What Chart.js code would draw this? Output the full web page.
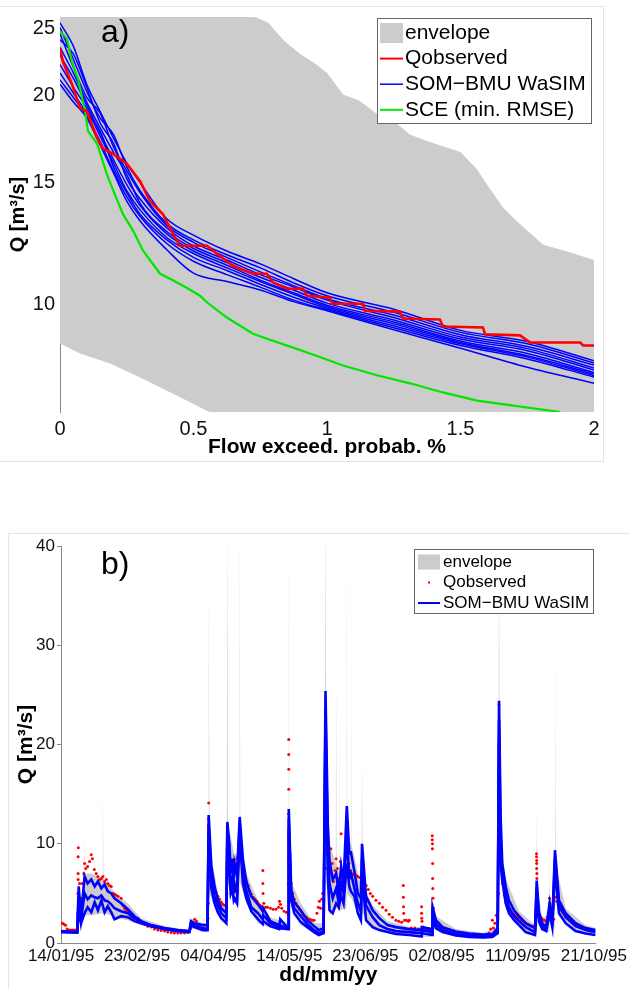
<!DOCTYPE html>
<html>
<head>
<meta charset="utf-8">
<script src="https://cdn.jsdelivr.net/npm/chart.js@4.4.1/dist/chart.umd.min.js"></script>
<style>
  body { margin: 0; background: #fff; width: 630px; height: 988px; overflow: hidden; position: relative; font-family: "Liberation Sans", Arial, sans-serif; }
  .frame { position: absolute; border: 1px solid #e4e4e4; }
  canvas { position: absolute; left: 0; }
  .panel { position: absolute; font-size: 32px; line-height: 1; color: #000; }
</style>
</head>
<body>
<div class="frame" style="left:-1px; top:6px; width:603px; height:454px;"></div>
<div class="frame" style="left:8px; top:533px; width:640px; height:480px;"></div>
<canvas id="chart1" width="630" height="470" style="top:0"></canvas>
<canvas id="chart2" width="630" height="488" style="top:500px"></canvas>
<div class="panel" style="left:101px; top:15px;">a)</div>
<div class="panel" style="left:101px; top:547px;">b)</div>
<script>
// ---- panel a) flow duration curves (x = exceedance %, y = Q m3/s, log) ----
let fdcTicksX = [0, 0.5, 1, 1.5, 2];
let fdcTicksY = [10, 15, 20, 25];

let envFdcX  = [0, 0.075, 0.19, 0.3, 0.45, 0.55, 0.6, 0.7, 0.72, 0.78, 0.84, 0.9, 0.96, 1.0, 1.06, 1.12, 1.19, 1.25, 1.31, 1.38, 1.5, 1.56, 1.61, 1.66, 1.71, 1.79, 1.81, 1.91, 2.0];
let envFdcHi = [40, 40, 40, 40, 40, 40, 40, 28, 26.1, 25.5, 24.0, 23.0, 22.2, 21.6, 20.1, 19.7, 18.8, 18.4, 17.6, 17.2, 16.6, 15.7, 14.7, 13.8, 13.2, 12.4, 12.2, 11.9, 11.6];
let envFdcLo = [8.79, 8.5, 8.22, 7.85, 7.35, 7.03, 6.9, 6.7, 6.7, 6.6, 6.6, 6.5, 6.5, 6.5, 6.5, 6.5, 6.5, 6.5, 6.5, 6.5, 6.5, 6.5, 6.5, 6.5, 6.5, 6.5, 6.5, 6.5, 6.5];

let obsFdcX = [0, 0.011, 0.045, 0.075, 0.101, 0.139, 0.161, 0.199, 0.251, 0.300, 0.337, 0.386, 0.423, 0.449, 0.551, 0.588, 0.648, 0.723, 0.775, 0.798, 0.850, 0.910, 0.925, 1.011, 1.019, 1.135, 1.142, 1.273, 1.285, 1.423, 1.434, 1.584, 1.592, 1.723, 1.760, 1.948, 1.959, 2.0];
let obsFdcQ = [23.4, 22.4, 20.8, 19.2, 19.0, 17.4, 16.8, 16.5, 15.96, 15.07, 14.1, 13.5, 12.65, 12.16, 12.16, 11.84, 11.37, 11.08, 11.08, 10.76, 10.54, 10.54, 10.3, 10.23, 10.03, 10.03, 9.80, 9.77, 9.55, 9.52, 9.30, 9.27, 9.06, 9.03, 8.82, 8.82, 8.73, 8.73];

let sceX = [0, 0.026, 0.045, 0.067, 0.094, 0.105, 0.139, 0.176, 0.206, 0.236, 0.273, 0.311, 0.375, 0.412, 0.476, 0.524, 0.551, 0.625, 0.723, 0.775, 0.873, 0.955, 1.06, 1.187, 1.311, 1.434, 1.562, 1.685, 1.873];
let sceQ = [24.8, 24.2, 22.4, 21.2, 19.0, 17.8, 17.06, 15.4, 14.4, 13.5, 12.8, 11.96, 11.08, 10.9, 10.57, 10.3, 10.07, 9.58, 9.08, 8.93, 8.67, 8.45, 8.17, 7.91, 7.70, 7.47, 7.27, 7.16, 7.0];

let somX = [0, 0.05, 0.1, 0.15, 0.2, 0.25, 0.3, 0.4, 0.5, 0.625, 0.75, 0.875, 1, 1.25, 1.5, 1.75, 2];
let somRuns = [
  [25.5, 23.6, 20.8, 19.0, 17.4, 16.0, 15.0, 13.3, 12.6, 11.95, 11.45, 10.9, 10.4, 9.85, 9.18, 8.85, 8.30],
  [25.1, 22.6, 20.3, 18.6, 17.6, 15.8, 14.6, 13.1, 12.4, 11.8, 11.3, 10.75, 10.3, 9.75, 9.12, 8.78, 8.24],
  [24.6, 22.0, 19.9, 18.9, 16.9, 15.6, 14.5, 13.0, 12.3, 11.7, 11.15, 10.65, 10.2, 9.66, 9.05, 8.70, 8.18],
  [24.1, 23.0, 20.6, 18.3, 17.1, 15.2, 14.2, 12.9, 12.15, 11.6, 11.05, 10.6, 10.15, 9.58, 8.98, 8.64, 8.10],
  [23.5, 21.6, 19.6, 18.0, 16.6, 15.4, 14.0, 12.75, 12.05, 11.5, 10.95, 10.5, 10.05, 9.5, 8.92, 8.58, 8.05],
  [22.9, 21.2, 19.4, 17.7, 16.2, 14.9, 13.9, 12.65, 11.95, 11.4, 10.85, 10.4, 9.98, 9.44, 8.86, 8.50, 7.98],
  [22.2, 20.6, 19.2, 17.5, 16.0, 14.6, 13.7, 12.5, 11.85, 11.3, 10.8, 10.35, 9.93, 9.38, 8.82, 8.44, 7.94],
  [21.6, 20.2, 18.9, 17.8, 15.8, 14.5, 13.5, 12.4, 11.7, 11.2, 10.7, 10.25, 9.88, 9.32, 8.78, 8.40, 7.90],
  [21.1, 19.9, 18.7, 17.2, 15.6, 14.3, 13.4, 12.25, 11.55, 11.05, 10.6, 10.15, 9.83, 9.26, 8.73, 8.35, 7.86],
  [20.8, 19.6, 18.6, 17.0, 15.5, 14.1, 13.2, 12.0, 11.1, 10.8, 10.5, 10.1, 9.8, 9.2, 8.65, 8.12, 7.70]
];

// ---- panel b) hydrograph, x = days since 14/01/95 ----
let dayTicks = [0, 40, 80, 120, 160, 200, 240, 280];
let dayLabels = ['14/01/95', '23/02/95', '04/04/95', '14/05/95', '23/06/95', '02/08/95', '11/09/95', '21/10/95'];
let qTicks = [0, 10, 20, 30, 40];

// [day, lower, upper]
let envRows = [
  [0,1.0,1.3],[8.5,1.0,1.3],[9.0,1.0,6.0],[9.3,2.5,6.5],[10.5,1.0,3.0],[12.1,2.5,7.0],[12.4,2.8,10.7],[12.7,2.8,7.0],
  [15.9,2.8,7.0],[21.7,3.0,6.5],[22.0,3.0,15.7],[22.3,3.0,6.5],[26.4,2.8,5.5],[31.6,2.4,4.5],[35.1,2.3,4.0],[42.1,1.8,2.5],
  [54.4,1.3,1.7],[67.5,1.0,1.3],[68.3,1.6,2.5],[74.5,1.2,2.0],[77.3,1.2,2.0],[77.6,10.0,37.3],[78.0,5.0,10.0],[82.4,2.8,5.0],
  [87.1,1.8,3.5],[87.4,9.0,45],[87.7,6.0,12],[91.0,4.0,9.0],[91.2,4.0,32],[91.4,4.0,9.0],[93.7,3.8,9.0],[93.9,10.0,45],
  [94.2,6.0,12],[97.4,4.0,7.0],[103.5,2.0,4.3],[110,1.5,2.6],[119.4,1.3,2.0],[119.7,11,45],[119.9,6,14],[120.3,4.5,6.5],
  [126,1.8,4.0],[133,1.0,2.0],[138.7,0.8,2.0],[139,20,45],[139.4,6,20],[141.1,2.8,10],[144.4,3.5,8],[144.6,3.5,27.4],
  [144.8,3.5,8],[146.3,3.3,7],[146.5,3.3,25],[146.7,3.3,7],[150.0,3.5,9],[150.2,7.5,45],[150.4,5,12],[152.2,4.5,10],
  [152.4,4.5,30.8],[152.6,4.5,10],[157.9,2.0,5.5],[158.2,6.5,18.6],[158.5,3,6],[163.8,1.4,3.8],[171.6,1.0,2.2],[183,0.7,1.6],
  [195.0,0.6,1.5],[195.3,2.2,4.2],[197,1.3,2.7],[207.5,0.65,1.4],[222,0.5,1.0],[229.9,0.8,1.7],[230.2,19,45],[230.5,8,18],
  [231.2,7,12],[232,5.5,9],[233.7,3.5,6.5],[240.7,1.6,3.2],[249.1,0.7,1.8],[249.8,1,5],[250.0,4,13.9],[250.3,2,6],
  [252.9,1.2,2.4],[256.6,1.1,3.0],[256.8,2.8,13.0],[257.0,2.0,4],[259.4,1.4,4],[259.6,7,32.5],[259.9,4,8],[265.2,1.8,3.5],
  [275.7,0.85,1.8],[281,0.7,1.5]
];

// [day, Q] observed
let observed = [
  [0,2.0],[0.8,2.0],[1.6,1.9],[2.4,1.8],[3.2,1.4],[4,1.3],[5,1.3],[6,1.3],[7,1.3],[8,1.3],[8.6,1.4],
  [8.9,3.0],[8.9,5.0],[9.0,6.4],[9.0,7.0],[9.0,8.7],[9.1,9.6],
  [9.8,6.0],[10.5,4.5],[11.2,6.0],[12,7.0],[12.4,8.0],[13,7.5],[14,7.7],[15,8.2],[15.9,8.9],[16.5,8.5],[17.5,7.4],[18.5,7.0],
  [19.4,6.7],[20.3,6.4],[21.2,6.5],[22,6.7],[22.9,6.2],[23.8,6.4],[24.6,6.0],[25.5,5.8],[26.4,5.7],[27.3,5.0],[28.1,4.9],
  [29,4.8],[30,4.7],[31.6,4.5],[32.5,3.8],[33.4,3.5],[34.3,3.3],[35.1,3.2],[36.9,2.7],[38.6,2.6],[40.4,2.5],[42.1,2.2],
  [43.9,1.9],[45.6,1.7],[47.4,1.6],[49.1,1.4],[50.9,1.3],[52.6,1.25],[54.4,1.2],[56.1,1.1],[57.9,1.05],[59.6,1.0],[61.4,1.0],
  [63.1,1.0],[64.9,1.0],[66.6,1.05],
  [68.3,1.5],[69.5,2.0],[70.3,2.4],[71.2,2.2],[72,1.8],[73,1.5],[74.5,1.4],[76,1.3],[77.2,2.5],
  [77.4,4.0],[77.5,7.0],[77.5,10.0],[77.6,12.5],[77.6,14.1],
  [78.2,10.0],[78.7,8.2],[79.2,7.1],[80,6.3],[80.7,5.4],[81.5,5.1],[82.4,4.7],[83.3,4.4],[84.2,4.1],[85,3.9],[86,3.8],[86.9,3.7],
  [87.2,5.0],[87.2,7.5],[87.3,9.5],[87.4,11.7],[88,10.5],[88.6,9.0],[89.2,8.0],[89.8,7.8],[90.4,8.3],[91.2,8.4],[91.8,8.0],
  [92.5,8.6],[93.2,8.2],[93.9,8.5],[94.6,8.4],[95.2,8.0],[95.6,7.5],[96.5,7.0],[97.4,6.2],[98.3,5.8],[99.2,5.2],[100,4.9],
  [101,4.6],[102,4.4],[103,4.2],[103.5,4.0],[104.5,3.8],[105.5,3.7],
  [106.1,7.3],[106.1,6.0],[106.2,5.0],[106.6,4.0],[107.5,3.6],[108.5,3.6],[110,3.5],[111.5,3.4],[113,3.4],[114.3,3.6],
  [114.8,4.2],[115.3,3.9],[116,3.5],[117.2,3.2],[118.4,3.1],[119.3,3.0],
  [119.5,6.0],[119.5,8.5],[119.6,11.0],[119.6,13.0],[119.7,15.5],[119.7,17.5],[119.7,19.0],[119.7,20.5],
  [120.3,9.0],[121,6.0],[121.8,5.0],[122.6,4.4],[123.5,4.0],[124.4,3.7],[125.3,3.4],[126.2,3.2],[127,2.9],[128,2.7],
  [129,2.6],[130,2.4],[131,2.4],[132,2.3],[133,2.3],
  [134.5,3.0],[135.2,3.6],[135.8,4.2],[136.4,3.5],[137,4.4],[137.5,5.0],[138.2,6.2],
  [139,7.5],[139.6,9.0],[140.3,8.0],[141.1,7.0],[141.8,9.5],[142.5,8.0],[143.2,6.2],[144,7.3],[144.6,8.5],[145.3,7.5],
  [146,6.5],[146.8,8.2],[147.2,11.0],[147.8,7.0],[148.5,6.0],[149.2,7.0],[150,8.5],[150.6,9.0],[151.3,8.0],[152,7.3],
  [152.8,7.0],[153.6,6.9],[154.4,6.8],[155.2,6.8],[156,6.7],[157,6.6],[158,6.5],[159.4,6.3],[160.4,5.8],[161.5,5.4],
  [162.6,5.0],[163.8,4.7],[165.5,4.3],[167.3,4.0],[169,3.6],[170.8,3.3],[172.5,2.9],[174.2,2.6],[176,2.3],[177.5,2.2],[179,2.1],
  [179.9,5.8],[179.9,4.6],[180,3.65],[180.1,3.0],[180.5,2.3],[181.5,2.3],[182.5,2.2],[183,2.3],[184,1.5],[186,1.5],[188,1.4],
  [189.5,3.65],[189.5,3.0],[189.6,2.5],[189.7,2.2],[190.3,1.6],[191.5,1.4],[193,1.3],[194.5,1.3],
  [195.1,10.8],[195.1,10.4],[195.2,10.0],[195.2,9.5],[195.3,8.0],[195.3,6.5],[195.4,5.5],[195.5,4.5],[195.7,3.5],[196.2,2.8],
  [197,2.0],[198,1.7],[199,1.6],[200.5,1.5],[202,1.3],[204,1.1],[206,1.0],[208,0.9],[210,0.85],[212,0.8],[214,0.75],
  [216,0.7],[218,0.7],[220,0.7],[222,0.7],[224,0.75],
  [225,1.0],[225.8,1.4],[226.7,2.3],[227.3,1.5],[228,2.0],[228.8,2.8],[229.5,2.5],
  [230,5.0],[230.1,10.0],[230.1,15.0],[230.2,20.0],[230.2,24.0],
  [231,8.0],[232,6.0],[233,4.8],[234,4.0],[235,3.5],[236,3.2],[237,3.0],[238.1,2.9],[239,2.7],[240,2.6],[241,2.5],
  [242,2.3],[243,2.2],[244,2.0],[245,1.9],[246,1.8],[247,1.7],[248,1.7],[249.5,1.8],
  [249.9,9.0],[249.9,8.7],[250,8.3],[250,8.0],[250,7.5],[250.1,7.0],[250.1,6.5],[250.2,5.0],[250.4,3.8],[251,3.2],
  [251.5,2.9],[252.3,2.6],[253,2.4],[254,2.3],[255,2.2],[256,2.5],
  [256.7,4.5],[256.8,4.0],[256.9,3.5],[257.5,2.8],[258.2,2.5],[259,2.4],
  [259.8,4.6],[260.5,4.2],[261.7,3.6],[262.6,3.3],[263.5,3.1],[264.3,3.0],[265.2,2.8],[266.5,2.6],[268,2.4],[269.3,2.2],
  [270.4,2.0],[271.7,1.8],[273,1.6],[274.3,1.5],[275.7,1.4],[277,1.3],[278.5,1.2]
];

// [day, upper run, middle run, lower run]
let simRows = [
  [0,1.2,1.15,1.1],[8.5,1.1,1.1,1.05],[9.3,5.7,4.5,3.5],[10.5,2.6,2.3,2.0],[12.4,6.7,5.0,3.0],[14,6.0,4.4,3.6],
  [15.9,6.4,4.8,3.1],[17.7,5.7,4.6,4.1],[19.4,6.2,4.5,3.3],[21.2,5.5,4.8,4.3],[22.9,5.9,4.3,3.1],[24.6,5.2,4.2,3.7],
  [26.4,5.0,3.9,3.1],[28.1,4.5,3.5,2.4],[31.6,4.0,3.2,2.7],[35.1,3.4,3.0,2.6],[38.6,2.7,2.5,2.2],[42.1,2.2,2.1,2.0],
  [47.4,1.8,1.75,1.7],[54.4,1.5,1.45,1.4],[61.4,1.3,1.25,1.2],[67.5,1.2,1.15,1.1],[68.3,2.2,2.0,1.8],[70,2.0,1.8,1.6],
  [74.5,1.8,1.5,1.3],[77.0,1.8,1.4,1.3],[77.6,12.9,12.0,11.0],[79,7.7,6.5,5.5],[80.7,5.7,4.7,4.0],[82.4,4.4,3.8,3.1],
  [84.2,3.5,3.0,2.5],[86.9,3.0,2.5,2.0],[87.4,12.2,11.0,10.0],[88.5,10.0,8.5,7.0],[89.2,7.0,6.0,5.0],[90,8.5,6.5,5.5],
  [90.8,6.5,5.0,4.3],[91.2,8.0,6.0,4.5],[92.5,6.8,5.0,4.0],[93.9,12.7,12.0,11.0],[95.6,8.4,7.0,6.0],[97.4,6.2,5.3,4.5],
  [100,4.7,3.6,3.2],[103.5,3.9,3.0,2.4],[106,3.2,2.4,1.9],[106.3,3.5,2.8,2.2],[110,2.2,2.0,1.7],[114.8,1.8,1.6,1.4],
  [115.2,2.4,1.8,1.5],[119.3,1.5,1.45,1.4],[119.7,13.5,12.5,11.5],[121,5.3,4.6,4.3],[122.6,4.1,3.5,3.0],[126,3.3,2.7,2.1],
  [129.5,2.3,1.9,1.6],[133,1.7,1.3,1.1],[135.5,1.3,1.0,0.8],[138,1.5,1.2,1.0],[139,25.4,23.5,21.5],[140.2,12,9.5,7],
  [141.1,8.3,6,3.3],[142.8,6.4,4.5,3.0],[144.6,7.0,5.5,4.0],[146,5.0,4.0,3.6],[147.2,7.7,6.0,4.8],[148.5,6.0,5.0,4.0],
  [150.2,13.8,11.0,8.0],[151.5,9.0,6.5,5.7],[152.4,9.1,7.0,5.2],[154.2,7.2,5.5,4.7],[156,5.0,4.0,3.0],[157.6,4.5,3.2,2.3],
  [158.2,10.0,8.5,7.0],[160.3,4.7,3.8,2.3],[163.8,3.3,2.6,1.6],[167.3,2.5,1.8,1.3],[171.6,1.8,1.4,1.1],[176,1.6,1.2,0.9],
  [183,1.4,1.1,0.8],[189.3,1.3,1.0,0.65],[189.6,1.6,1.3,1.0],[195,1.4,1.1,0.8],[195.3,3.6,3.0,2.5],[197,2.3,1.9,1.5],
  [200.5,1.6,1.3,1.1],[207.5,1.15,0.9,0.75],[214.5,0.95,0.75,0.62],[222,0.85,0.7,0.55],[226.7,0.9,0.75,0.6],[229.5,1.5,1.2,1.0],
  [230.2,24.4,22.5,20.5],[231,12.9,10.5,8.0],[231.9,8.0,7.0,6.3],[233.7,5.7,4.8,4.0],[235.4,4.3,3.6,3.0],[238.1,3.3,2.7,2.3],
  [240.7,2.7,2.2,1.8],[244.2,2.0,1.6,1.1],[249.1,1.5,1.1,0.8],[250,6.3,5.5,4.5],[251.2,3.0,2.6,2.2],[252.9,2.0,1.7,1.4],
  [255,1.6,1.4,1.2],[256.8,4.0,3.5,3.0],[258.2,2.1,1.8,1.6],[259.6,9.35,8.5,7.5],[261.7,4.3,3.8,3.0],[265.2,3.0,2.6,2.0],
  [270.4,2.0,1.7,1.2],[275.7,1.5,1.3,0.95],[280.9,1.3,1.1,0.8]
];

Chart.defaults.font.family = '"Liberation Sans", Arial, sans-serif';
Chart.defaults.color = '#111';

// legend drawn as a boxed list inside the plot, matlab style
let boxLegend = {
  id: 'boxLegend',
  afterDraw(chart, args, o) {
    let c = chart.ctx;
    c.save();
    c.fillStyle = '#fff';
    c.fillRect(o.x, o.y, o.w, o.h);
    c.strokeStyle = '#666';
    c.lineWidth = 1;
    c.strokeRect(o.x + 0.5, o.y + 0.5, o.w, o.h);
    c.font = o.size + 'px "Liberation Sans", Arial, sans-serif';
    c.textBaseline = 'middle';
    o.items.forEach((it, i) => {
      let cy = o.y + o.first + i * o.gap;
      let sx = o.x + o.sx;
      if (it.kind === 'box') {
        c.fillStyle = it.color;
        c.fillRect(sx, cy - o.boxH / 2, o.sw, o.boxH);
      } else if (it.kind === 'line') {
        c.strokeStyle = it.color;
        c.lineWidth = it.width;
        c.beginPath(); c.moveTo(sx, cy); c.lineTo(sx + o.sw, cy); c.stroke();
      } else {
        c.fillStyle = it.color;
        c.fillRect(sx + o.sw / 2 - 1, cy - 1, 2, 2);
      }
      c.fillStyle = '#000';
      c.fillText(it.text, o.x + o.tx, cy);
    });
    c.restore();
  }
};

let xy = (xs, ys) => xs.map((x, i) => ({x: x, y: ys[i]}));

let ds1 = [
  { data: xy(envFdcX, envFdcLo), borderWidth: 0, pointRadius: 0, fill: false, order: 10 },
  { data: xy(envFdcX, envFdcHi), borderWidth: 0, pointRadius: 0, backgroundColor: '#cccccc', fill: '-1', order: 9 }
];
somRuns.forEach(run => {
  ds1.push({ data: xy(somX, run), borderColor: '#0000ff', borderWidth: 1.5, pointRadius: 0, cubicInterpolationMode: 'monotone', order: 5 });
});
ds1.push({ data: xy(sceX, sceQ), borderColor: '#00e600', borderWidth: 2.2, pointRadius: 0, order: 3 });
ds1.push({ data: xy(obsFdcX, obsFdcQ), borderColor: '#ff0000', borderWidth: 2.6, pointRadius: 0, order: 1 });

let chart1 = new Chart(document.getElementById('chart1'), {
  type: 'line',
  data: { datasets: ds1 },
  options: {
    animation: false,
    responsive: false,
    layout: { padding: { top: 15, right: 36, left: 0, bottom: 0 } },
    plugins: {
      legend: { display: false },
      tooltip: { enabled: false },
      boxLegend: {
        x: 377, y: 18, w: 214, h: 105, first: 15, gap: 25.6, sx: 3, sw: 23, boxH: 20, tx: 28, size: 21,
        items: [
          { kind: 'box', color: '#cccccc', text: 'envelope' },
          { kind: 'line', color: '#ff0000', width: 2, text: 'Qobserved' },
          { kind: 'line', color: '#0000ff', width: 1.5, text: 'SOM\u2212BMU WaSIM' },
          { kind: 'line', color: '#00e600', width: 2, text: 'SCE (min. RMSE)' }
        ]
      }
    },
    scales: {
      x: {
        type: 'linear', min: 0, max: 2,
        afterBuildTicks: s => { s.ticks = fdcTicksX.map(v => ({value: v})); },
        afterFit: s => { s.height = 58; },
        grid: { display: false, drawTicks: false },
        border: { display: false },
        ticks: { padding: 5, maxRotation: 0, font: { size: 20 }, color: '#111', callback: v => String(v) },
        title: { display: true, text: 'Flow exceed. probab. %', color: '#000', font: { size: 21, weight: 'bold' }, padding: { top: 0, bottom: 10 } }
      },
      y: {
        type: 'logarithmic', min: 7, max: 26,
        afterBuildTicks: s => { s.ticks = fdcTicksY.map(v => ({value: v})); },
        afterFit: s => { s.width = 60; },
        grid: { display: false, drawTicks: false },
        border: { display: true, color: '#888' },
        ticks: { padding: 5, font: { size: 20 }, color: '#111', callback: v => String(v) },
        title: { display: true, text: 'Q [m\u00b3/s]', color: '#000', font: { size: 20, weight: 'bold' }, padding: { top: 6, bottom: 0 } }
      }
    }
  },
  plugins: [boxLegend]
});

let ds2 = [
  { data: envRows.map(r => ({x: r[0], y: r[1]})), borderWidth: 0, pointRadius: 0, fill: false, order: 10 },
  { data: envRows.map(r => ({x: r[0], y: r[2]})), borderWidth: 0, pointRadius: 0, backgroundColor: '#cccccc', fill: '-1', order: 9 },
  { data: observed.map(r => ({x: r[0], y: r[1]})), showLine: false, pointRadius: 1.5, pointBorderWidth: 0, pointBackgroundColor: '#ff0000', order: 4 }
];
[1, 2, 3].forEach(k => {
  ds2.push({ data: simRows.map(r => ({x: r[0], y: r[k]})), borderColor: '#0000ff', borderWidth: 2.6, pointRadius: 0, order: 2 });
});

let chart2 = new Chart(document.getElementById('chart2'), {
  type: 'line',
  data: { datasets: ds2 },
  options: {
    animation: false,
    responsive: false,
    layout: { padding: { top: 46, right: 33, left: 0, bottom: 0 } },
    plugins: {
      legend: { display: false },
      tooltip: { enabled: false },
      boxLegend: {
        x: 414, y: 49, w: 179, h: 64, first: 13, gap: 20.5, sx: 4, sw: 22, boxH: 15, tx: 29, size: 17,
        items: [
          { kind: 'box', color: '#cccccc', text: 'envelope' },
          { kind: 'dot', color: '#ff0000', text: 'Qobserved' },
          { kind: 'line', color: '#0000ff', width: 2, text: 'SOM\u2212BMU WaSIM' }
        ]
      }
    },
    scales: {
      x: {
        type: 'linear', min: 0, max: 281,
        afterBuildTicks: s => { s.ticks = dayTicks.map(v => ({value: v})); },
        afterFit: s => { s.height = 45; },
        grid: { display: false, drawTicks: false },
        border: { display: true, color: '#888' },
        ticks: { padding: 3, maxRotation: 0, font: { size: 17 }, color: '#111', callback: v => dayLabels[dayTicks.indexOf(v)] },
        title: { display: true, text: 'dd/mm/yy', color: '#000', font: { size: 21, weight: 'bold' }, padding: { top: 0, bottom: 0 } }
      },
      y: {
        type: 'linear', min: 0, max: 40,
        afterBuildTicks: s => { s.ticks = qTicks.map(v => ({value: v})); },
        afterFit: s => { s.width = 61; },
        grid: { display: true, drawOnChartArea: false, drawTicks: true, tickLength: 4, color: '#888' },
        border: { display: true, color: '#888' },
        ticks: { padding: 2, font: { size: 17 }, color: '#111' },
        title: { display: true, text: 'Q [m\u00b3/s]', color: '#000', font: { size: 21, weight: 'bold' }, padding: { top: 14, bottom: 0 } }
      }
    }
  },
  plugins: [boxLegend]
});
</script>
</body>
</html>
